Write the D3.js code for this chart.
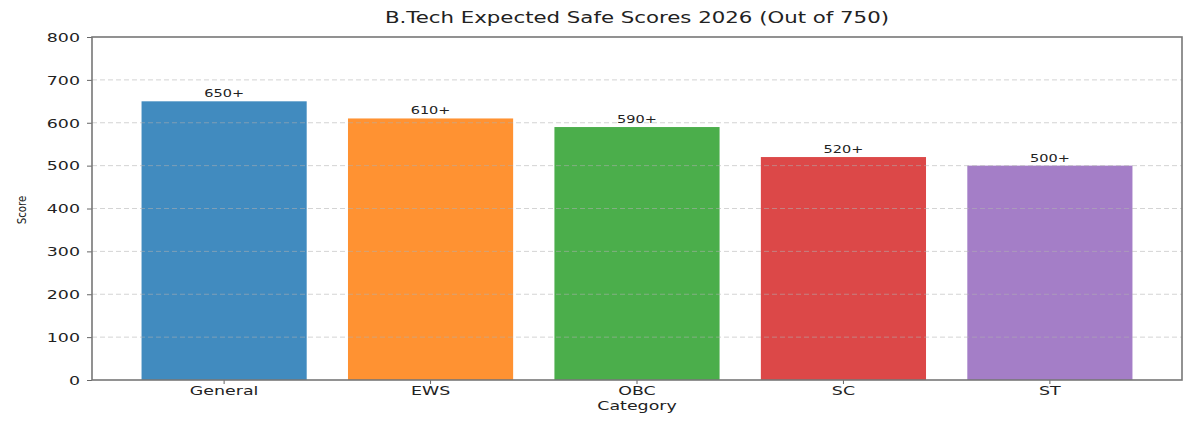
<!DOCTYPE html>
<html>
<head>
<meta charset="utf-8">
<script src="https://cdn.jsdelivr.net/npm/d3@7"></script>
<style>
  body { margin: 0; background: #fff; }
  text { font-family: "DejaVu Sans", sans-serif; fill: #222; }
</style>
</head>
<body>
<svg width="1200" height="422"></svg>
<script>
'use strict';

const categories = ['General', 'EWS', 'OBC', 'SC', 'ST']
const scores = [650, 610, 590, 520, 500]
const scoreLabels = ['650+', '610+', '590+', '520+', '500+']
const barColors = ['#418bbf', '#ff9232', '#4bae4b', '#dc4848', '#a47ec7']
const yTicks = [0, 100, 200, 300, 400, 500, 600, 700, 800]

const margin = { left: 92, right: 18, top: 37, bottom: 42 }
const width = 1200, height = 422
const sx = 1.45 // the reference text is drawn wide

const svg = d3.select('svg')

const x = d3.scaleBand()
  .domain(categories)
  .range([margin.left, width - margin.right])
  .paddingInner(0.2)
  .paddingOuter(0.24)

const y = d3.scaleLinear()
  .domain([0, 800])
  .range([height - margin.bottom, margin.top])

// wide text helper
const wideText = (sel, tx, ty, s) => sel.attr('transform', `translate(${tx},${ty}) scale(${s},1)`)

// bars
svg.append('g').selectAll('rect')
  .data(categories)
  .enter()
  .append('rect')
  .attr('x', (d) => x(d))
  .attr('y', (d, i) => y(scores[i]))
  .attr('width', x.bandwidth())
  .attr('height', (d, i) => y(0) - y(scores[i]))
  .style('fill', (d, i) => barColors[i])

// dashed grid over the bars
svg.append('g').selectAll('line')
  .data(yTicks.filter((t) => t > 0 && t < 800))
  .enter()
  .append('line')
  .attr('x1', margin.left)
  .attr('x2', width - margin.right)
  .attr('y1', (d) => y(d))
  .attr('y2', (d) => y(d))
  .style('stroke', '#b0b0b0')
  .style('stroke-opacity', 0.55)
  .style('stroke-width', 1)
  .style('stroke-dasharray', '5,3')

// value labels
svg.append('g').selectAll('text')
  .data(categories)
  .enter()
  .append('text')
  .text((d, i) => scoreLabels[i])
  .attr('text-anchor', 'middle')
  .style('font-size', '10px')
  .each(function(d, i) {
    wideText(d3.select(this), x(d) + x.bandwidth() / 2, y(scores[i]) - 4, sx)
  })

// axes
const yAxis = svg.append('g')
  .attr('transform', `translate(${margin.left},0)`)
  .call(d3.axisLeft(y).tickValues(yTicks).tickSize(5).tickPadding(4))
yAxis.selectAll('text').remove()
yAxis.selectAll('.tick').append('text')
  .text((d) => d)
  .attr('text-anchor', 'end')
  .attr('dy', '0.36em')
  .style('font-size', '12px')
  .attr('fill', '#222')
  .each(function() { wideText(d3.select(this), -12, 0, sx) })

const xAxis = svg.append('g')
  .attr('transform', `translate(0,${y(0)})`)
  .call(d3.axisBottom(x).tickSize(4).tickPadding(4))
xAxis.selectAll('text').remove()
xAxis.selectAll('.tick').append('text')
  .text((d) => d)
  .attr('text-anchor', 'middle')
  .attr('dy', '0.71em')
  .style('font-size', '12px')
  .attr('fill', '#222')
  .each(function() { wideText(d3.select(this), 0, 6, sx) })

svg.selectAll('.domain').remove()
svg.selectAll('.tick line').style('stroke', '#666')

// frame
svg.append('rect')
  .attr('x', margin.left)
  .attr('y', margin.top)
  .attr('width', width - margin.left - margin.right)
  .attr('height', y(0) - margin.top)
  .style('fill', 'none')
  .style('stroke', '#777')
  .style('stroke-width', 1.6)

// titles
svg.append('text')
  .text('B.Tech Expected Safe Scores 2026 (Out of 750)')
  .attr('text-anchor', 'middle')
  .style('font-size', '15px')
  .call(wideText, (margin.left + width - margin.right) / 2, 23, 1.42)

svg.append('text')
  .text('Category')
  .attr('text-anchor', 'middle')
  .style('font-size', '12px')
  .call(wideText, (margin.left + width - margin.right) / 2, 410, 1.45)

svg.append('text')
  .text('Score')
  .attr('text-anchor', 'middle')
  .style('font-size', '12px')
  .attr('transform', 'translate(26,210) rotate(-90) scale(0.85,1)')
</script>
</body>
</html>
